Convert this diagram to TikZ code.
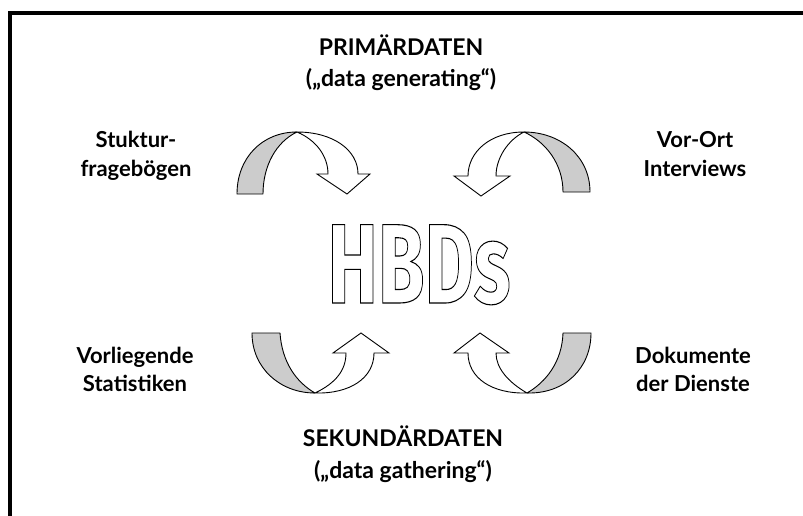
\documentclass[tikz,border=0pt]{standalone}
\usepackage{fontspec}
\setmainfont{Lato}
\newfontfamily\hbdfont{Fira Sans}
\usepackage{graphicx}
\definecolor{bandgray}{RGB}{204,204,204}
\newcommand{\outlinetext}[1]{\special{pdf:literal direct 1 Tr 1.1 w}#1\special{pdf:literal direct 0 Tr}}
\tikzset{
  lbl/.style={anchor=base, font=\fontsize{22}{26}\selectfont\bfseries, inner sep=0pt},
  ttl/.style={anchor=base, font=\fontsize{23}{27}\selectfont\bfseries, inner sep=0pt},
  backband/.style={draw=black, line width=0.9pt, fill=bandgray, line join=round},
  frontband/.style={draw=black, line width=0.9pt, fill=white, line join=miter},
  frameline/.style={line width=4pt, line cap=rect}
}
\begin{document}
\begin{tikzpicture}[x=1pt,y=-1pt]
\useasboundingbox (0,0) rectangle (803,516);
% frame
\coordinate (fbl) at (10,520);
\coordinate (ftl) at (10,13);
\coordinate (ftr) at (808,13);
\draw[frameline] (fbl) -- (ftl) -- (ftr);

% titles
\node[ttl] (prim) at (401,56) {PRIMÄRDATEN};
\node[ttl] (primsub) at (401,87) {(„data generating“)};
\node[ttl] (sek) at (403,446) {SEKUNDÄRDATEN};
\node[ttl] (seksub) at (403,478) {(„data gathering“)};

% side labels
\node[lbl] (tla) at (136,148) {Stuktur-};
\node[lbl] (tlb) at (136,176) {fragebögen};
\node[lbl] (tra) at (695,148) {Vor-Ort};
\node[lbl] (trb) at (695,176) {Interviews};
\node[lbl] (bla) at (135,363) {Vorliegende};
\node[lbl] (blb) at (135,391) {Statistiken};
\node[lbl] (bra) at (693,363) {Dokumente};
\node[lbl] (brb) at (693,391) {der Dienste};

% centre word
\node[anchor=base, inner sep=0pt] (hbd) at (419,303)
  {\scalebox{0.67}[1]{\hbdfont\fontsize{113}{113}\selectfont\bfseries\outlinetext{HBDs}}};

% top-left arrow
\draw[backband] (237,194) .. controls (237,158) and (262,132) .. (297,132)
  .. controls (276,142) and (263,166) .. (263,194) -- cycle;
\draw[frontband] (297,132) .. controls (333,132) and (358,150) .. (358,174)
  -- (370,174) -- (347,194) -- (317,174) -- (328,174)
  .. controls (328,156) and (316,140) .. (297,132) -- cycle;

% top-right arrow
\draw[backband] (590,192) .. controls (590,156) and (560,132) .. (524,132)
  .. controls (546,142) and (563,164) .. (563,192) -- cycle;
\draw[frontband] (524,132) .. controls (490,132) and (468,152) .. (468,176)
  -- (454,176) -- (481,196) -- (510,176) -- (496,176)
  .. controls (496,158) and (508,140) .. (524,132) -- cycle;

% bottom-left arrow
\draw[backband] (252,333) -- (280,333) .. controls (282,362) and (296,382) .. (315,393)
  .. controls (280,393) and (252,368) .. (252,333) -- cycle;
\draw[frontband] (315,393) .. controls (336,383) and (346,370) .. (346,353)
  -- (333,353) -- (361,333) -- (389,353) -- (374,353)
  .. controls (374,378) and (350,394) .. (315,393) -- cycle;

% bottom-right arrow
\draw[backband] (563,333) -- (591,333) .. controls (591,368) and (565,394) .. (527,393)
  .. controls (546,382) and (562,362) .. (563,333) -- cycle;
\draw[frontband] (527,393) .. controls (508,382) and (496,368) .. (496,353)
  -- (509,353) -- (480,333) -- (454,353) -- (468,353)
  .. controls (468,378) and (492,394) .. (527,393) -- cycle;
\end{tikzpicture}
\end{document}
